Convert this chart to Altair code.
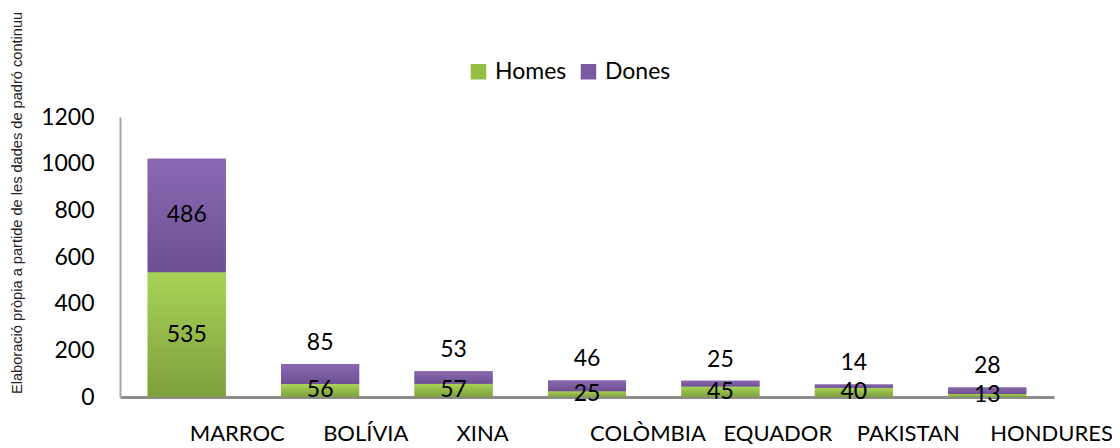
import altair as alt
import pandas as pd

countries = ["MARROC", "BOLÍVIA", "XINA", "COLÒMBIA", "EQUADOR", "PAKISTAN", "HONDURES"]
homes = [535, 56, 57, 25, 45, 40, 13]
dones = [486, 85, 53, 46, 25, 14, 28]
series = ["Homes", "Dones"]
y_ticks = [0, 200, 400, 600, 800, 1000, 1200]
source_note = "Elaboració pròpia a partide de les dades de padró continuu"

df = pd.DataFrame({"pais": countries, "Homes": homes, "Dones": dones})

FONT = "Lato"
FS = 23

xaxis = alt.Axis(labelAlign="left", labelBaseline="top", labelPadding=26, labelOffset=3,
                 ticks=False, domainColor="#8c8c8c", domainWidth=3, labelFont=FONT,
                 labelFontSize=22, labelColor="black", labelAngle=0, labelLimit=300,
                 labelOverlap=False, title=None)
x = alt.X("pais:N", sort=countries, title=None,
          scale=alt.Scale(paddingInner=0.415, paddingOuter=0.2075), axis=xaxis)

yscale = alt.Scale(domain=[0, 1200], nice=False)
yaxis = alt.Axis(values=y_ticks, format="d", grid=False, ticks=False, labelPadding=26,
                 domainColor="#a6a6a6", domainWidth=2, labelFont=FONT,
                 labelFontSize=FS, labelColor="black", title=None)

green_grad = alt.Gradient(gradient="linear",
                          stops=[alt.GradientStop(color="#a9d357", offset=0),
                                 alt.GradientStop(color="#7e9f3d", offset=1)],
                          x1=0, x2=0, y1=0, y2=1)
purple_grad = alt.Gradient(gradient="linear",
                           stops=[alt.GradientStop(color="#8a69b2", offset=0),
                                  alt.GradientStop(color="#6d4f92", offset=1)],
                           x1=0, x2=0, y1=0, y2=1)

base = alt.Chart(df)

legend_layer = base.transform_fold(series, as_=["Sexe", "Valor"]).transform_calculate(
    ord="datum.Sexe == 'Homes' ? 0 : 1"
).mark_bar().encode(
    x=x,
    y=alt.Y("Valor:Q", stack="zero", scale=yscale, axis=yaxis, title=None),
    color=alt.Color("Sexe:N", scale=alt.Scale(domain=series, range=["#93bf45", "#7a5aa1"]),
                    legend=alt.Legend(title=None, orient="none", legendX=347, legendY=-57,
                                      direction="horizontal", symbolType="square",
                                      symbolSize=240, symbolStrokeWidth=0,
                                      labelFont=FONT, labelFontSize=FS, labelColor="black",
                                      labelOffset=5, columnPadding=10, padding=0)),
    order=alt.Order("ord:Q"),
)

green_bars = base.mark_bar(fill=green_grad).encode(
    x=x, y=alt.Y("Homes:Q", scale=yscale, axis=yaxis, title=None)
)

purple_bars = base.transform_calculate(total="datum.Homes + datum.Dones").mark_bar(
    fill=purple_grad
).encode(
    x=x, y=alt.Y("total:Q", scale=yscale, axis=yaxis, title=None), y2="Homes:Q"
)

homes_lbl = base.transform_calculate(mid="datum.Homes / 2").mark_text(
    font=FONT, fontSize=FS, baseline="middle", color="black"
).encode(x=x, y=alt.Y("mid:Q", scale=yscale, axis=yaxis, title=None), text="Homes:Q")

dones_in = base.transform_filter("datum.Dones > 200").transform_calculate(
    mid="datum.Homes + datum.Dones / 2"
).mark_text(font=FONT, fontSize=FS, baseline="middle", color="black").encode(
    x=x, y=alt.Y("mid:Q", scale=yscale, axis=yaxis, title=None), text="Dones:Q"
)

dones_top = base.transform_filter("datum.Dones <= 200").transform_calculate(
    total="datum.Homes + datum.Dones"
).mark_text(font=FONT, fontSize=FS, baseline="alphabetic", dy=-14, color="black").encode(
    x=x, y=alt.Y("total:Q", scale=yscale, axis=yaxis, title=None), text="Dones:Q"
)

note = alt.Chart(pd.DataFrame({"t": [source_note]})).mark_text(
    angle=270, align="left", baseline="alphabetic", font="Liberation Sans",
    fontSize=14.6, color="#222222"
).encode(x=alt.value(-98), y=alt.value(277), text="t:N")

chart = alt.layer(legend_layer, green_bars, purple_bars, homes_lbl, dones_in, dones_top, note).properties(
    width=934, height=280,
    padding={"left": 112, "top": 109, "right": 58, "bottom": 48},
    autosize=alt.AutoSizeParams(type="none"),
).configure_view(stroke=None)

chart.save("out.html", embed_options={"renderer": "svg", "actions": False})
